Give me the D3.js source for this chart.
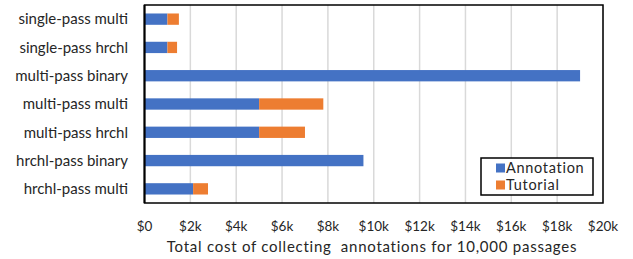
<!DOCTYPE html>
<html lang="en">
<head>
    <meta charset="UTF-8">
    <title>Annotation cost</title>
    <script src="https://d3js.org/d3.v7.min.js"></script>
    <style>
        body { margin: 0; background: #fff; }
        text { font-family: Lato, "Open Sans", sans-serif; fill: #262626; }
    </style>
</head>
<body>
    <script>
        var w = 633;
        var h = 259;

        // data (in $k)
        var categories = ["single-pass multi", "single-pass hrchl", "multi-pass binary",
            "multi-pass multi", "multi-pass hrchl", "hrchl-pass binary", "hrchl-pass multi"];
        var annotation = [1.0, 1.0, 19.0, 5.0, 5.0, 9.55, 2.12];
        var tutorial = [0.5, 0.42, 0, 2.8, 2.0, 0, 0.65];
        var ticks = [0, 2, 4, 6, 8, 10, 12, 14, 16, 18, 20];
        var seriesNames = ["Annotation", "Tutorial"];
        var colors = ["#4472C4", "#ED7D31"];

        var margin = { left: 144.5, right: 30, top: 5, bottom: 56 };

        var xScale = d3.scaleLinear()
            .domain([0, 20])
            .range([margin.left, w - margin.right]);

        var yScale = d3.scaleBand()
            .domain(categories)
            .range([margin.top, h - margin.bottom])
            .paddingInner(0.6)
            .paddingOuter(0.3);

        var svg = d3.select("body")
            .append("svg")
            .attr("width", w)
            .attr("height", h);

        // gridlines
        svg.selectAll("line.grid")
            .data(ticks.slice(1))
            .enter()
            .append("line")
            .attr("class", "grid")
            .attr("x1", function(d) { return xScale(d); })
            .attr("x2", function(d) { return xScale(d); })
            .attr("y1", margin.top)
            .attr("y2", h - margin.bottom)
            .attr("stroke", "#d9d9d9")
            .attr("stroke-width", 1.5);

        // stacked bars
        var stackData = categories.map(function(c, i) {
            return { cat: c, Annotation: annotation[i], Tutorial: tutorial[i] };
        });
        var stacked = d3.stack().keys(seriesNames)(stackData);

        svg.selectAll("g.series")
            .data(stacked)
            .enter()
            .append("g")
            .attr("fill", function(d, i) { return colors[i]; })
            .selectAll("rect")
            .data(function(d) { return d; })
            .enter()
            .append("rect")
            .attr("x", function(d) { return xScale(d[0]); })
            .attr("y", function(d) { return yScale(d.data.cat); })
            .attr("width", function(d) { return xScale(d[1]) - xScale(d[0]); })
            .attr("height", yScale.bandwidth());

        // plot border
        svg.append("rect")
            .attr("x", margin.left)
            .attr("y", margin.top)
            .attr("width", xScale(20) - margin.left)
            .attr("height", h - margin.bottom - margin.top)
            .attr("fill", "none")
            .attr("stroke", "#000")
            .attr("stroke-width", 1.5);

        svg.append("line")
            .attr("x1", margin.left).attr("x2", margin.left)
            .attr("y1", margin.top).attr("y2", h - margin.bottom)
            .attr("stroke", "#000")
            .attr("stroke-width", 2);

        // category labels
        svg.selectAll("text.cat")
            .data(categories)
            .enter()
            .append("text")
            .attr("class", "cat")
            .attr("x", 128)
            .attr("y", function(d) { return yScale(d) + yScale.bandwidth() / 2; })
            .attr("dy", "0.35em")
            .attr("text-anchor", "end")
            .attr("font-size", "15px")
            .text(function(d) { return d; });

        // x tick labels
        svg.selectAll("text.tick")
            .data(ticks)
            .enter()
            .append("text")
            .attr("class", "tick")
            .attr("x", function(d) { return xScale(d); })
            .attr("y", 226)
            .attr("dy", "0.35em")
            .attr("text-anchor", "middle")
            .attr("font-size", "13.5px")
            .text(function(d) { return "$" + (d === 0 ? "0" : d + "k"); });

        svg.append("text")
            .attr("x", 372)
            .attr("y", 247)
            .attr("dy", "0.35em")
            .attr("text-anchor", "middle")
            .attr("font-size", "15px")
            .attr("letter-spacing", "0.75px")
            .attr("xml:space", "preserve")
            .text("Total cost of collecting  annotations for 10,000 passages");

        // legend
        var legend = svg.append("g").attr("transform", "translate(481,158)");
        legend.append("rect")
            .attr("width", 112)
            .attr("height", 37)
            .attr("fill", "#fff")
            .attr("stroke", "#000")
            .attr("stroke-width", 1.5);
        var items = legend.selectAll("g.item")
            .data(seriesNames)
            .enter()
            .append("g")
            .attr("transform", function(d, i) { return "translate(15," + (10 + i * 17) + ")"; });
        items.append("rect")
            .attr("y", -4.5)
            .attr("width", 9)
            .attr("height", 9)
            .attr("fill", function(d, i) { return colors[i]; });
        items.append("text")
            .attr("x", 10)
            .attr("dy", "0.35em")
            .attr("font-size", "14.5px")
            .attr("letter-spacing", "0.7px")
            .attr("fill", "#404040")
            .text(function(d) { return d; });
    </script>
</body>
</html>
